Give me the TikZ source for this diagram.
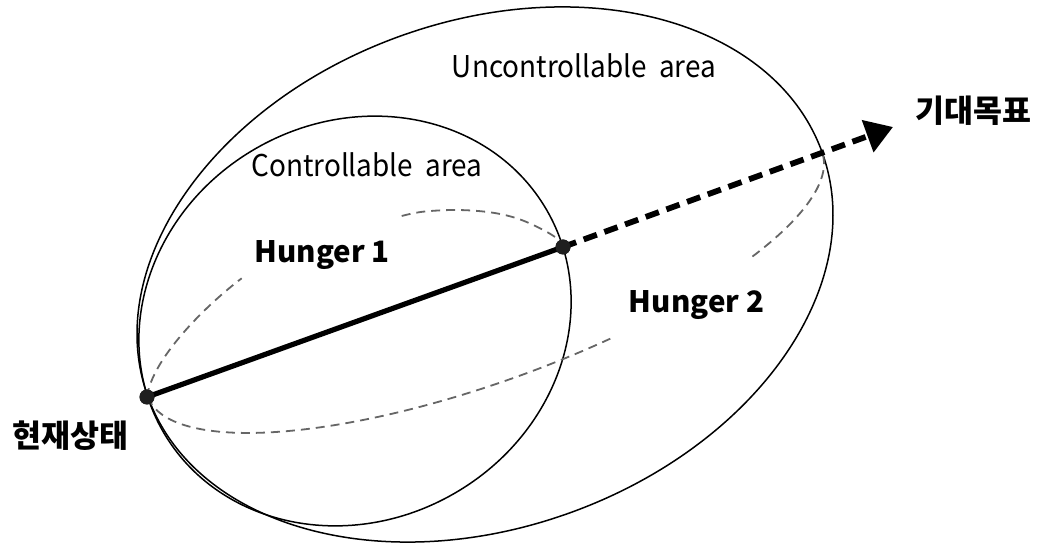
\documentclass[tikz,border=0pt]{standalone}
\usepackage{fontspec}
\setmainfont{Noto Sans CJK KR}
\usetikzlibrary{arrows.meta}
\begin{document}
\begin{tikzpicture}[x=1pt,y=1pt,
  outline/.style={draw=black,line width=1.5pt},
  hidden/.style={draw=black!60,line width=1.8pt,dash pattern=on 9pt off 6pt},
  axisline/.style={draw=black,line width=5.2pt},
  goal/.style={draw=black,line width=5.8pt,dash pattern=on 14pt off 8pt,-{Triangle[length=27pt,width=33pt]}},
  dot/.style={circle,fill=black!88,inner sep=0pt,minimum size=15pt},
  lab/.style={inner sep=0pt,font=\fontsize{30}{36}\selectfont,xscale=0.93},
  hung/.style={inner sep=0pt,font=\fontsize{29.5}{34}\selectfont\bfseries},
  kor/.style={inner sep=0pt,font=\fontsize{31.5}{36}\selectfont\bfseries}]
\useasboundingbox (0,0) rectangle (1037,544);
% points
\coordinate (L) at (147,147);
\coordinate (M) at (563,297);
\coordinate (T) at (893,417);
% outer ellipse (uncontrollable area)
\draw[outline,rotate around={20:(485,269.5)}] (485,269.5) ellipse [x radius=358.6, y radius=253];
% inner ellipse (controllable area)
\draw[outline,rotate around={30:(355,223)}] (355,223) ellipse [x radius=221.5, y radius=199];
% hidden dashed curves, Hunger 1
\coordinate (h1a) at (241.7,265.7);
\coordinate (h1b) at (401.7,328);
\draw[hidden] (L) .. controls (152,185) and (205,238) .. (h1a);
\draw[hidden] plot[smooth,tension=0.6] coordinates {(401.7,328) (423,332.3) (456.7,334) (490,331.7) (516.7,325.7) (540,315.7) (556.7,305.7) (563,297)};
% hidden dashed curves, Hunger 2
\begin{scope}[shift={(485,269.5)},rotate=19.97]
  \draw[hidden] plot[domain=180:285.5,samples=80] ({358.6*cos(\x)},{107*sin(\x)});
  \draw[hidden] plot[domain=315.9:360,samples=40] ({358.6*cos(\x)},{107*sin(\x)});
\end{scope}
% main axis and goal arrow
\node[dot] (cur) at (L) {};
\node[dot] (mid) at (M) {};
\coordinate (goalpt) at (T);
\draw[axisline] (cur.center) -- (mid.center);
\draw[goal] (mid.center) -- (goalpt);
\node[dot] at (L) {};
\node[dot] at (M) {};
% labels
\node[lab,anchor=base] (unc) at (584,466) {Uncontrollable\ \ area};
\node[lab,anchor=base] (con) at (367,367) {Controllable\ \ area};
\node[hung,anchor=base] (h1) at (322,281) {Hunger 1};
\node[hung,anchor=base] (h2) at (696.5,231) {Hunger 2};
\node[kor] (goaltxt) at (973.5,433) {기대목표};
\node[kor] (curtxt) at (70.5,108) {현재상태};
\end{tikzpicture}
\end{document}
